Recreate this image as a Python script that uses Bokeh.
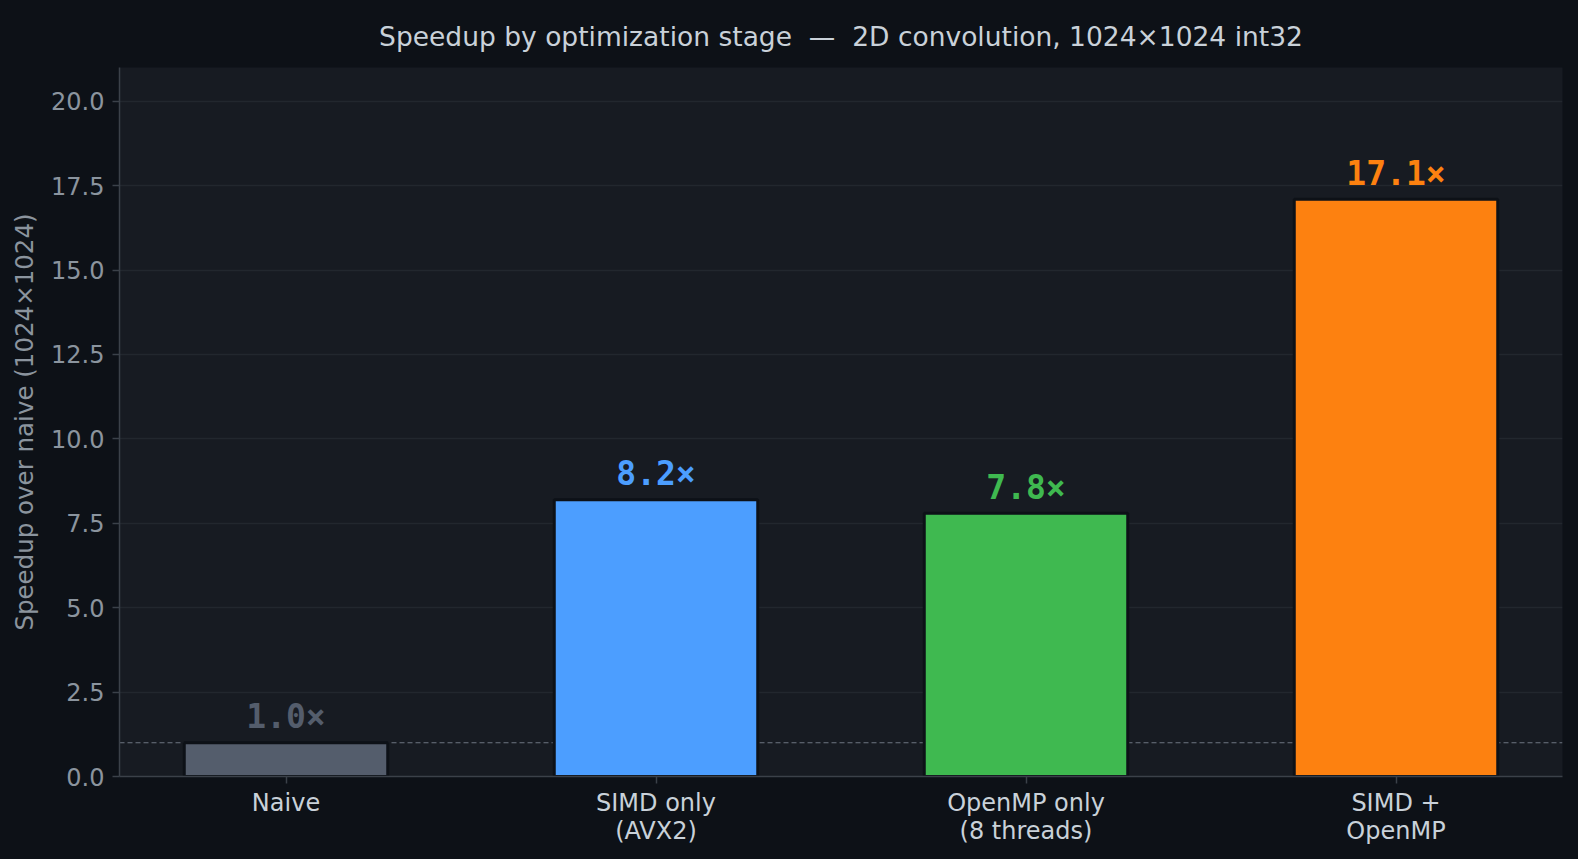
from bokeh.plotting import figure
from bokeh.models import ColumnDataSource, Range1d, FixedTicker, PrintfTickFormatter, Span
from bokeh.core.properties import value
from bokeh.embed import file_html
from bokeh.resources import INLINE

# Benchmark results: 2D convolution on a 1024x1024 int32 image
stages = ["Naive", "SIMD only\n(AVX2)", "OpenMP only\n(8 threads)", "SIMD +\nOpenMP"]
speedups = [1.0, 8.2, 7.8, 17.1]
bar_colors = ["#545d6c", "#4c9eff", "#3fb950", "#fd8110"]
y_ticks = [0.0, 2.5, 5.0, 7.5, 10.0, 12.5, 15.0, 17.5, 20.0]
title_text = "Speedup by optimization stage \u00a0—\u00a0 2D convolution, 1024×1024 int32"

BG_OUTER = "#0d1117"
BG_PLOT = "#171b22"
GRID = "#22272e"
AXIS = "#3b4149"
TXT = "#c9d1d9"
MUTED = "#8b949e"

positions = list(range(len(stages)))
source = ColumnDataSource(dict(
    x=positions,
    top=speedups,
    color=bar_colors,
    label=[f"{v:.1f}×" for v in speedups],
))

p = figure(
    width=1578, height=859,
    x_range=Range1d(-0.45, len(stages) - 0.55),
    y_range=Range1d(0, 21),
    output_backend="svg", toolbar_location=None,
    min_border_left=119, min_border_right=16,
    min_border_top=67, min_border_bottom=83,
)

# outer colour comes from the page/element background
p.background_fill_color = BG_PLOT
p.border_fill_color = None
p.styles = {"background-color": BG_OUTER}
p.outline_line_color = None

p.title.text = title_text
p.title.align = "center"
p.title.text_color = TXT
p.title.text_font = "DejaVu Sans"
p.title.text_font_size = "26.5px"
p.title.text_font_style = "normal"
p.title.standoff = 32

# baseline at 1x
ref = Span(location=1.0, dimension="width", line_color="#6e7681",
           line_width=1.2, line_dash="5 3", level="underlay")
p.add_layout(ref)

p.vbar(x="x", top="top", width=0.55, bottom=0, source=source,
       fill_color="color", line_color=BG_OUTER, line_width=3)

p.text(x="x", y="top", text="label", source=source,
       text_color="color", text_align="center", text_baseline="alphabetic",
       y_offset=-26, text_font=value("DejaVu Sans Mono"),
       text_font_style="bold", text_font_size="33px")

# grid
p.xgrid.grid_line_color = None
p.ygrid.grid_line_color = GRID
p.ygrid.grid_line_width = 1.5
p.ygrid.ticker = FixedTicker(ticks=y_ticks)

# x axis
p.xaxis.ticker = FixedTicker(ticks=positions)
p.xaxis.major_label_overrides = {i: s for i, s in zip(positions, stages)}
p.xaxis.major_label_text_color = TXT
p.xaxis.major_label_text_font = "DejaVu Sans"
p.xaxis.major_label_text_font_size = "24px"
p.xaxis.major_label_text_line_height = 1.0
p.xaxis.major_label_standoff = 5
p.xaxis.minor_tick_line_color = None

# y axis
p.yaxis.ticker = FixedTicker(ticks=y_ticks)
p.yaxis.formatter = PrintfTickFormatter(format="%.1f")
p.yaxis.major_label_text_color = MUTED
p.yaxis.major_label_text_font = "DejaVu Sans"
p.yaxis.major_label_text_font_size = "24px"
p.yaxis.major_label_standoff = 8
p.yaxis.minor_tick_line_color = None
p.yaxis.axis_label = "Speedup over naive (1024×1024)"
p.yaxis.axis_label_text_color = MUTED
p.yaxis.axis_label_text_font = "DejaVu Sans"
p.yaxis.axis_label_text_font_size = "24.5px"
p.yaxis.axis_label_text_font_style = "normal"
p.yaxis.axis_label_standoff = 9

for ax in (p.xaxis, p.yaxis):
    ax.axis_line_color = AXIS
    ax.axis_line_width = 1.5
    ax.major_tick_line_color = AXIS
    ax.major_tick_line_width = 1.5
    ax.major_tick_out = 7
    ax.major_tick_in = 0

html = file_html(p, INLINE)
html = html.replace("<body>", '<body style="margin:0;background:#0d1117;">', 1)
open("out.html", "w").write(html)
